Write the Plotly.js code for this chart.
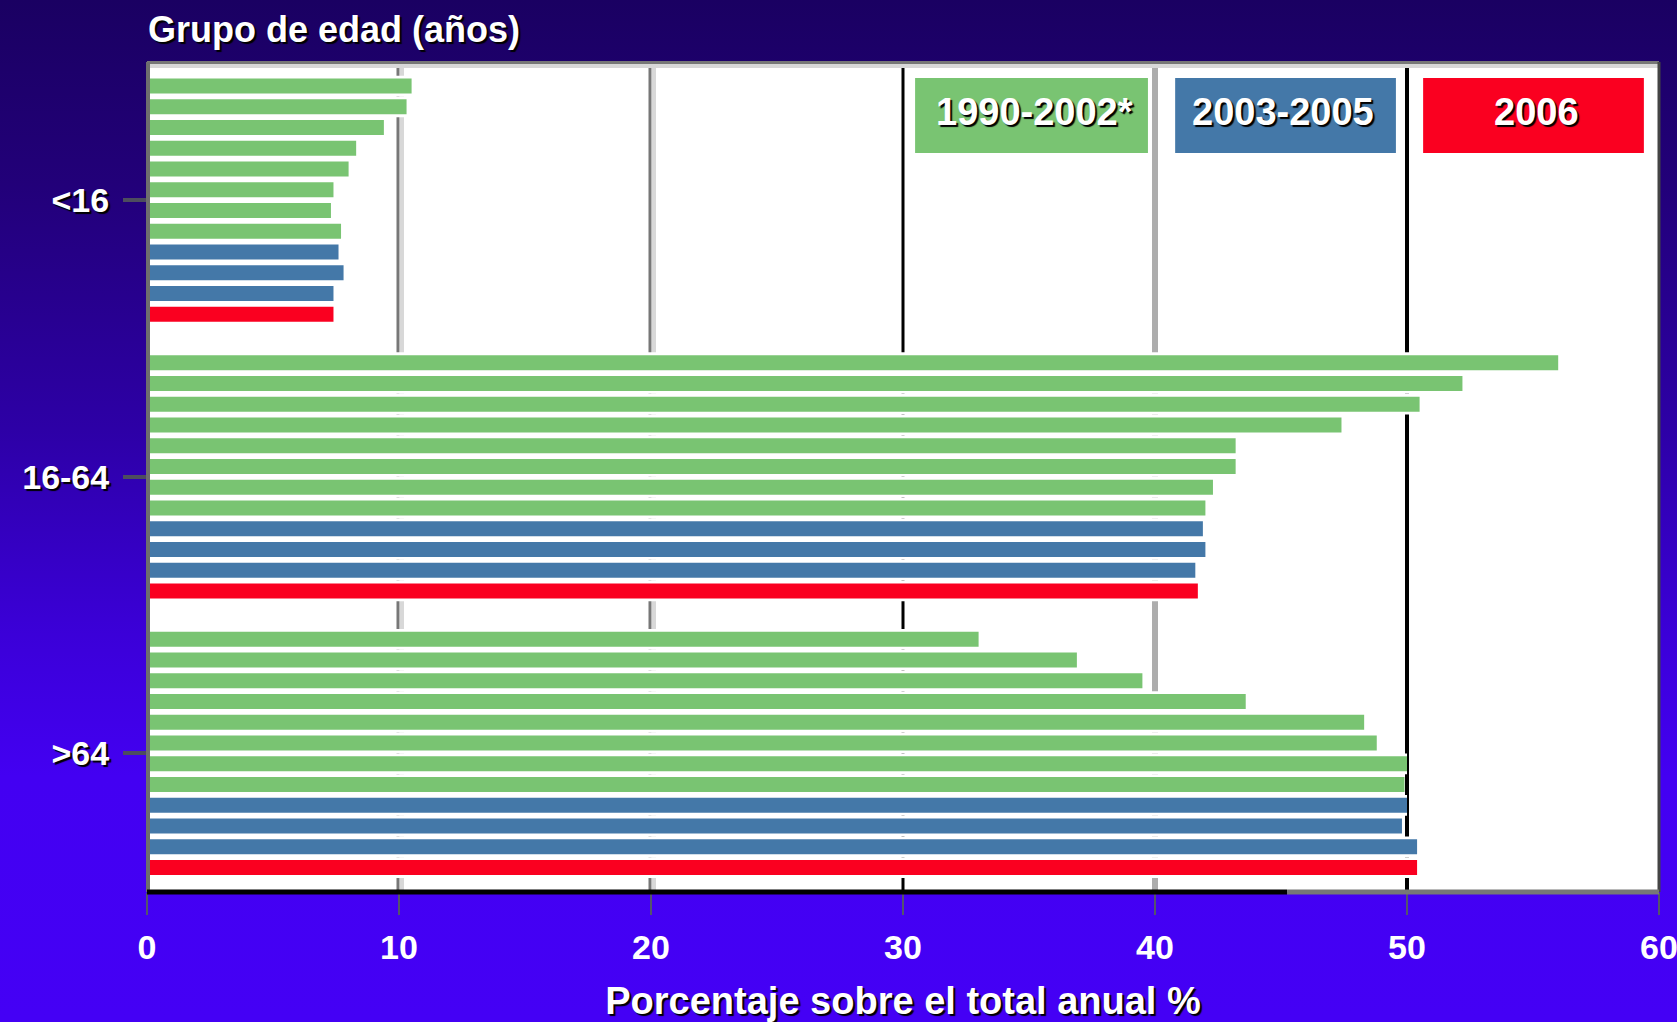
<!DOCTYPE html>
<html lang="es">
<head>
<meta charset="utf-8">
<title>Grupo de edad (años)</title>
<script src="https://cdn.plot.ly/plotly-3.0.1.min.js"></script>
<style>
  html, body {
    margin: 0;
    padding: 0;
    width: 1677px;
    height: 1022px;
    overflow: hidden;
    background: linear-gradient(to bottom, #1a0062 0%, #220079 18%, #2d00a6 42%, #3b00d8 62%, #4300f2 76%, #4400f5 100%);
  }
  #chart { width: 1677px; height: 1022px; }
</style>
</head>
<body>
<div id="chart"></div>
<script>
// Age groups shown on the vertical axis (top to bottom)
const ageGroups = ['<16', '16-64', '>64'];

// Periods and their colours
const periodLabels = ['1990-2002*', '2003-2005', '2006'];
const periodColors = ['#79c472', '#4478a8', '#fa0020'];

// Period index of each of the 12 bars drawn inside every age group
const barPeriod = [0, 0, 0, 0, 0, 0, 0, 0, 1, 1, 1, 2];

// Share of the annual total (%) per bar, for each age group
const pctUnder16 = [10.5, 10.3, 9.4, 8.3, 8.0, 7.4, 7.3, 7.7, 7.6, 7.8, 7.4, 7.4];
const pct16to64 = [56.0, 52.2, 50.5, 47.4, 43.2, 43.2, 42.3, 42.0, 41.9, 42.0, 41.6, 41.7];
const pctOver64 = [33.0, 36.9, 39.5, 43.6, 48.3, 48.8, 50.0, 49.9, 50.0, 49.8, 50.4, 50.4];

const groupValues = [pctUnder16, pct16to64, pctOver64];

// Vertical layout: one slot per bar, groups separated by a small gap
const GROUP_STEP = 13.33;
const barsPerGroup = barPeriod.length;
const slotPos = (g, i) => g * GROUP_STEP + i;
const groupCenters = ageGroups.map((_, g) => slotPos(g, (barsPerGroup - 1) / 2));

const FONT = 'Liberation Sans, Arial, Helvetica, sans-serif';
const SHADOW = '2px 2px 1px #000000';

// White full-slot backing behind every bar (hides the grid lines inside each slot)
const backX = [], backY = [];
groupValues.forEach((vals, g) => vals.forEach((v, i) => { backX.push(v); backY.push(slotPos(g, i)); }));

const traces = [{
  type: 'bar',
  orientation: 'h',
  x: backX,
  y: backY,
  width: 1.0,
  marker: { color: '#ffffff', line: { width: 0 } },
  hoverinfo: 'skip',
  showlegend: false
}];

periodLabels.forEach((label, p) => {
  const xs = [], ys = [];
  groupValues.forEach((vals, g) => {
    vals.forEach((v, i) => {
      if (barPeriod[i] === p) { xs.push(v); ys.push(slotPos(g, i)); }
    });
  });
  traces.push({
    type: 'bar',
    orientation: 'h',
    name: label,
    x: xs,
    y: ys,
    width: 0.72,
    marker: { color: periodColors[p], line: { width: 0 } },
    hovertemplate: label + ': %{x}%<extra></extra>',
    showlegend: false
  });
});

// Vertical reference lines, each with its own style
const gridStyles = [
  { x: 10, color: '#777777', width: 3, shift: -1 },
  { x: 10, color: '#d8d8d8', width: 4, shift: 3 },
  { x: 20, color: '#777777', width: 3, shift: -1 },
  { x: 20, color: '#d8d8d8', width: 4, shift: 3 },
  { x: 30, color: '#000000', width: 3, shift: 0 },
  { x: 40, color: '#adadad', width: 6, shift: 0 },
  { x: 50, color: '#000000', width: 4, shift: 0 }
];
const shapes = gridStyles.map(s => ({
  type: 'line', layer: 'below',
  xref: 'x', xsizemode: 'pixel', xanchor: s.x, x0: s.shift, x1: s.shift,
  yref: 'paper', y0: 0, y1: 1,
  line: { color: s.color, width: s.width }
}));

// Plot frame
const PH = 830, PW = 1512;
shapes.push(
  { type: 'line', layer: 'above', xref: 'paper', yref: 'paper', x0: 0, x1: 1, y0: 1 - 4 / PH, y1: 1 - 4 / PH, line: { color: '#d8d8d8', width: 4 } },
  { type: 'line', layer: 'above', xref: 'paper', yref: 'paper', x0: 0, x1: 1, y0: 1 - 0.5 / PH, y1: 1 - 0.5 / PH, line: { color: '#777777', width: 3 } },
  { type: 'line', layer: 'above', xref: 'paper', yref: 'paper', x0: 1 / PW, x1: 1 / PW, y0: 0, y1: 1, line: { color: '#6e6e6e', width: 4 } },
  { type: 'line', layer: 'above', xref: 'paper', yref: 'paper', x0: 1, x1: 1, y0: 0, y1: 1, line: { color: '#444444', width: 3 } },
  { type: 'line', layer: 'above', xref: 'paper', yref: 'paper', x0: 0, x1: 0.754, y0: 0, y1: 0, line: { color: '#000000', width: 5 } },
  { type: 'line', layer: 'above', xref: 'paper', yref: 'paper', x0: 0.754, x1: 1, y0: 0, y1: 0, line: { color: '#777777', width: 5 } }
);

// Colour-keyed period boxes in the top right corner
const keyBoxes = [
  { x0: 0.508, x1: 0.662, tx: 0.587 },
  { x0: 0.680, x1: 0.826, tx: 0.751 },
  { x0: 0.844, x1: 0.990, tx: 0.919 }
];
keyBoxes.forEach((b, p) => shapes.push({
  type: 'rect', layer: 'above', xref: 'paper', yref: 'paper',
  x0: b.x0, x1: b.x1, y0: 0.8904, y1: 0.9807,
  fillcolor: periodColors[p], line: { width: 0 }
}));
const annotations = periodLabels.map((label, p) => ({
  xref: 'paper', yref: 'paper',
  x: keyBoxes[p].tx, y: 0.9398,
  xanchor: 'center', yanchor: 'middle',
  text: label,
  showarrow: false,
  font: { family: FONT, size: 38, color: '#ffffff', weight: 'bold', shadow: SHADOW }
}));

const layout = {
  width: 1677,
  height: 1022,
  margin: { l: 147, r: 18, t: 62, b: 130 },
  paper_bgcolor: 'rgba(0,0,0,0)',
  plot_bgcolor: '#ffffff',
  barmode: 'overlay',
  showlegend: false,
  title: {
    text: 'Grupo de edad (años)',
    x: 148 / 1677, xanchor: 'left', xref: 'container',
    y: 1 - 29 / 1022, yanchor: 'middle', yref: 'container',
    font: { family: FONT, size: 36, color: '#ffffff', weight: 'bold', shadow: SHADOW }
  },
  xaxis: {
    range: [0, 60],
    tickmode: 'linear', tick0: 0, dtick: 10,
    ticks: 'outside', ticklen: 22, tickwidth: 2, tickcolor: '#55556a',
    showgrid: false, zeroline: false, showline: false,
    tickfont: { family: FONT, size: 34, color: '#ffffff', weight: 'bold' },
    ticklabelstandoff: 3,
    ticklabeloverflow: 'allow',
    title: {
      text: 'Porcentaje sobre el total anual %',
      standoff: 25,
      font: { family: FONT, size: 38, color: '#ffffff', weight: 'bold', shadow: SHADOW }
    },
    automargin: false,
    fixedrange: true
  },
  yaxis: {
    range: [slotPos(ageGroups.length - 1, barsPerGroup - 1) + 1.18, -1.16],
    tickmode: 'array',
    tickvals: groupCenters,
    ticktext: ageGroups,
    ticks: 'outside', ticklen: 23, tickwidth: 4, tickcolor: '#4d4d5e',
    showgrid: false, zeroline: false, showline: false,
    tickfont: { family: FONT, size: 34, color: '#ffffff', weight: 'bold', shadow: SHADOW },
    ticklabelstandoff: 7,
    automargin: false,
    fixedrange: true
  },
  shapes: shapes,
  annotations: annotations
};

Plotly.newPlot('chart', traces, layout, { displayModeBar: false, staticPlot: true });
</script>
</body>
</html>
